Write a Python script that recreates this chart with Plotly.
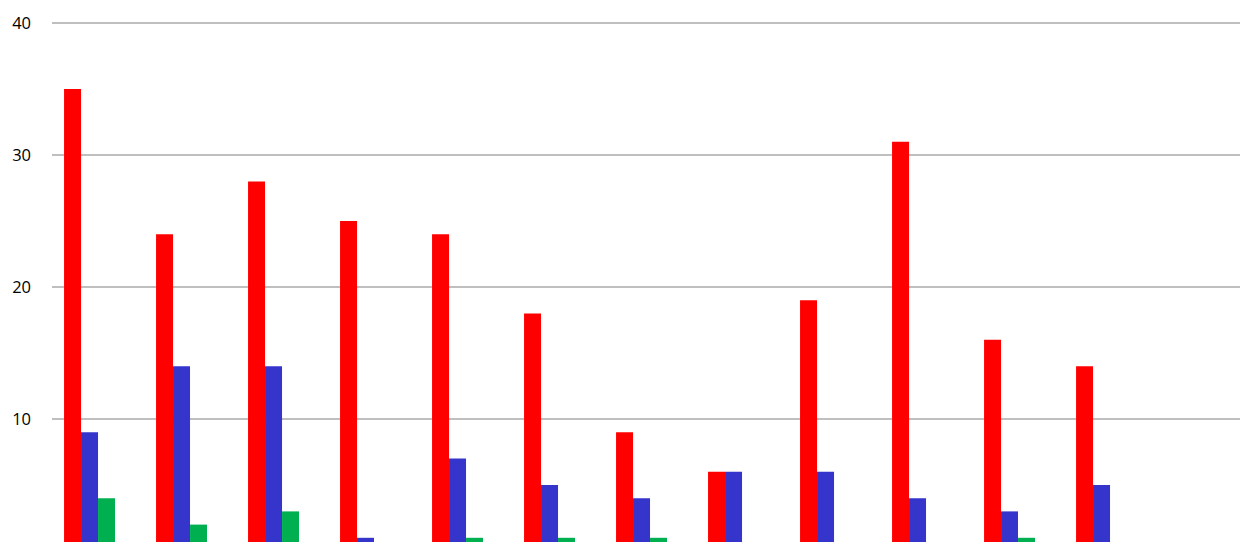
import plotly.graph_objects as go

categories = ["1", "2", "3", "4", "5", "6", "7", "8", "9", "10", "11", "12"]
series_red = [35, 24, 28, 25, 24, 18, 9, 6, 19, 31, 16, 14]
series_blue = [9, 14, 14, 1, 7, 5, 4, 6, 6, 4, 3, 5]
series_green = [4, 2, 3, 0, 1, 1, 1, 0, 0, 0, 1, 0]
y_ticks = [10, 20, 30, 40]

fig = go.Figure()
fig.add_bar(x=categories, y=series_red, marker=dict(color="#FF0000", line=dict(width=0)), name="A")
fig.add_bar(x=categories, y=series_blue, marker=dict(color="#3535CC", line=dict(width=0)), name="B")
fig.add_bar(x=categories, y=series_green, marker=dict(color="#00B050", line=dict(width=0)), name="C")

fig.update_layout(
    width=1240, height=542,
    margin=dict(l=52, r=0, t=0, b=0),
    paper_bgcolor="white", plot_bgcolor="white",
    barmode="group", bargap=0.446, bargroupgap=0,
    showlegend=False,
    font=dict(family="Open Sans", size=16, color="#000000"),
)
fig.update_xaxes(type="category", range=[-0.408, 12.505], showticklabels=False,
                 showgrid=False, zeroline=False, showline=False, ticks="")
fig.update_yaxes(range=[0.682, 41.742], tickvals=y_ticks, ticktext=[str(v) for v in y_ticks],
                 showgrid=True, gridcolor="#BFBFBF", gridwidth=1.6, zeroline=False,
                 showline=False, ticks="", ticklabelstandoff=20,
                 tickfont=dict(family="Open Sans", size=16.5, color="#000000"))

fig.write_html(
    "out.html",
    config={"displayModeBar": False},
    post_script="document.body.style.margin='0';document.body.style.padding='0';"
                "document.body.style.overflow='hidden';",
)
